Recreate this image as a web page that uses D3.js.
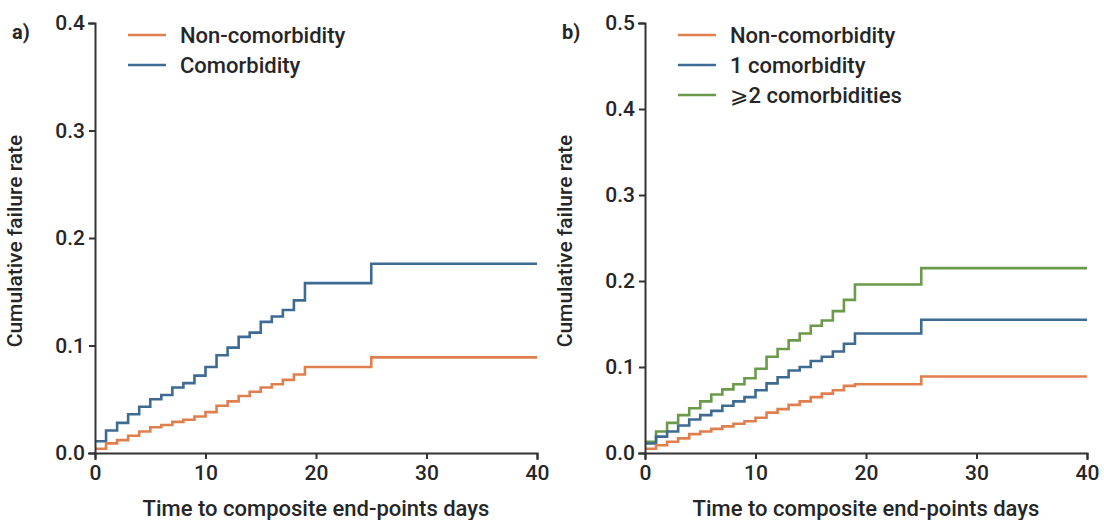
<!DOCTYPE html>
<html>
<head>
<meta charset="utf-8">
<script src="https://cdn.jsdelivr.net/npm/d3@7"></script>
<style>
  body { margin: 0; background: #fff; }
  svg text { font-family: Roboto, "DejaVu Sans", sans-serif; fill: #262626; }
  .axis path, .axis line { stroke: #333; stroke-width: 2; }
  .axis text { font-size: 21px; font-weight: 500; }
</style>
</head>
<body>
<svg id="chart"></svg>
<script>
// time points (days) where the curves step
const days = [0, 1, 2, 3, 4, 5, 6, 7, 8, 9, 10, 11, 12, 13, 14, 15, 16, 17, 18, 19, 25, 40];

// panel a
const aNonComorbidity = [0.004, 0.009, 0.012, 0.016, 0.020, 0.024, 0.026, 0.029, 0.031, 0.034, 0.038,
    0.044, 0.048, 0.053, 0.057, 0.061, 0.064, 0.068, 0.073, 0.080, 0.089, 0.089];
const aComorbidity = [0.011, 0.021, 0.028, 0.036, 0.043, 0.050, 0.054, 0.061, 0.065, 0.072, 0.080,
    0.091, 0.098, 0.108, 0.112, 0.122, 0.127, 0.133, 0.142, 0.158, 0.176, 0.176];

// panel b
const bNonComorbidity = [0.005, 0.009, 0.013, 0.017, 0.022, 0.025, 0.028, 0.031, 0.034, 0.037, 0.041,
    0.047, 0.051, 0.056, 0.060, 0.065, 0.069, 0.073, 0.078, 0.080, 0.089, 0.089];
const bOneComorbidity = [0.011, 0.019, 0.025, 0.032, 0.039, 0.044, 0.049, 0.055, 0.060, 0.065, 0.073,
    0.081, 0.088, 0.096, 0.100, 0.107, 0.112, 0.118, 0.127, 0.139, 0.155, 0.155];
const bTwoPlus = [0.013, 0.025, 0.035, 0.044, 0.052, 0.060, 0.068, 0.074, 0.080, 0.087, 0.098,
    0.112, 0.121, 0.131, 0.139, 0.148, 0.154, 0.165, 0.178, 0.196, 0.215, 0.215];

const xTicks = [0, 10, 20, 30, 40];
const aYTicks = [0, 0.1, 0.2, 0.3, 0.4];
const bYTicks = [0, 0.1, 0.2, 0.3, 0.4, 0.5];

const orange = "#e07f4e", blue = "#3e6b93", green = "#6b9a4b";

const panels = [
    {
        tag: "a)", left: 95, yMax: 0.4, yTicks: aYTicks,
        series: [
            {name: "Non-comorbidity", values: aNonComorbidity, color: orange},
            {name: "Comorbidity", values: aComorbidity, color: blue},
        ]
    },
    {
        tag: "b)", left: 645, yMax: 0.5, yTicks: bYTicks,
        series: [
            {name: "Non-comorbidity", values: bNonComorbidity, color: orange},
            {name: "1 comorbidity", values: bOneComorbidity, color: blue},
            {name: "\u2A7E2 comorbidities", values: bTwoPlus, color: green},
        ]
    }
];

const W = 1104, H = 520;
const plotTop = 23, plotBottom = 453, plotW = 442;

const svg = d3.select("#chart").attr("width", W).attr("height", H);

panels.forEach(function (p) {
    const g = svg.append("g");

    const x = d3.scaleLinear().domain([0, 40]).range([p.left, p.left + plotW]);
    const y = d3.scaleLinear().domain([0, p.yMax]).range([plotBottom, plotTop]);

    // curves first so the axes sit on top
    const line = d3.line()
        .x((d, i) => x(days[i]))
        .y(d => y(d))
        .curve(d3.curveStepAfter);

    // draw in reverse so orange ends up on top like the original
    p.series.slice().reverse().forEach(function (s) {
        g.append("path")
            .datum(s.values)
            .attr("d", line)
            .attr("fill", "none")
            .attr("stroke", s.color)
            .attr("stroke-width", 2.6);
    });

    g.append("g")
        .attr("class", "axis")
        .attr("transform", "translate(0," + plotBottom + ")")
        .call(d3.axisBottom(x).tickValues(xTicks).tickFormat(d3.format("d")).tickSize(6).tickPadding(6));

    g.append("g")
        .attr("class", "axis")
        .attr("transform", "translate(" + p.left + ",0)")
        .call(d3.axisLeft(y).tickValues(p.yTicks).tickFormat(d3.format(".1f")).tickSize(6).tickPadding(4));

    g.selectAll(".axis .domain").attr("stroke-linecap", "square");

    // axis titles
    g.append("text")
        .attr("transform", "translate(" + (p.left - 73) + "," + ((plotTop + plotBottom) / 2 + 3) + ") rotate(-90)")
        .attr("text-anchor", "middle")
        .attr("font-size", "21px")
        .attr("font-weight", 500)
        .text("Cumulative failure rate");

    g.append("text")
        .attr("x", p.left + plotW / 2)
        .attr("y", 516)
        .attr("text-anchor", "middle")
        .attr("font-size", "22px")
        .attr("font-weight", 500)
        .text("Time to composite end-points days");

    // panel tag
    g.append("text")
        .attr("x", p.left - 83)
        .attr("y", 39)
        .attr("font-size", "20px")
        .attr("font-weight", 700)
        .text(p.tag);

    // legend
    const leg = g.selectAll("g.leg")
        .data(p.series)
        .enter().append("g")
        .attr("class", "leg")
        .attr("transform", (d, i) => "translate(" + (p.left + 33) + "," + (35 + i * 30) + ")");

    leg.append("line")
        .attr("x1", 0).attr("x2", 38)
        .attr("stroke", d => d.color)
        .attr("stroke-width", 2.4);

    leg.append("text")
        .attr("x", 52)
        .attr("dy", "0.36em")
        .attr("font-size", "22px")
        .attr("font-weight", 500)
        .text(d => d.name);
});
</script>
</body>
</html>
